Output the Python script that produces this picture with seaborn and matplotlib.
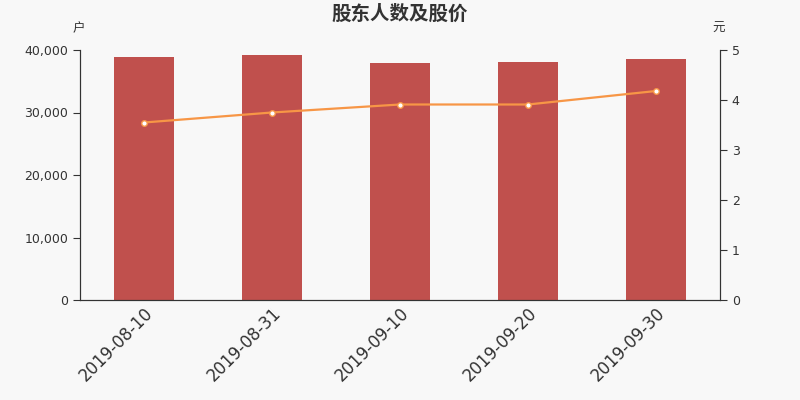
import numpy as np
import pandas as pd
import matplotlib
matplotlib.use("Agg")
import matplotlib.pyplot as plt
import seaborn as sns

# données
dates = ["2019-08-10", "2019-08-31", "2019-09-10", "2019-09-20", "2019-09-30"]
holders = [38880, 39250, 37970, 38030, 38560]
price = [3.55, 3.75, 3.91, 3.91, 4.18]

df = pd.DataFrame({"date": dates, "holders": holders, "price": price})

sns.set_style("white")
plt.rcParams["font.family"] = ["Noto Sans CJK SC", "DejaVu Sans"]

bg = "#f8f8f8"
axis_col = "#333333"

fig = plt.figure(figsize=(8, 4), dpi=100, facecolor=bg)
ax = fig.add_axes([0.1, 0.25, 0.8, 0.625])
ax.set_facecolor(bg)

sns.barplot(data=df, x="date", y="holders", color="#c0504d", saturation=1,
            width=0.47, linewidth=0, edgecolor="none", ax=ax)
ax.set_ylim(0, 40000)
ax.set_xlim(-0.5, len(dates) - 0.5)
ax.set_yticks([0, 10000, 20000, 30000, 40000])
ax.set_yticklabels([f"{v:,}" for v in [0, 10000, 20000, 30000, 40000]],
                   fontsize=9, color=axis_col, family="DejaVu Sans")
ax.set_xlabel("")
ax.set_ylabel("")

# ticks entre les catégories, libellés au centre
ax.set_xticks(np.arange(len(dates)))
ax.set_xticklabels(dates, rotation=45, ha="right", rotation_mode="anchor",
                   fontsize=12, color=axis_col, family="DejaVu Sans")
ax.tick_params(axis="x", which="major", length=0, pad=3)
ax.set_xticks(np.arange(len(dates) + 1) - 0.5, minor=True)
ax.tick_params(axis="x", which="minor", length=5, color=axis_col)
ax.tick_params(axis="y", length=5, color=axis_col, left=True)

ax2 = ax.twinx()
sns.lineplot(data=df, x="date", y="price", color="#f79646", linewidth=1.6,
             marker="o", markersize=4, markerfacecolor="white",
             markeredgecolor="#f79646", markeredgewidth=1, ax=ax2, sort=False)
ax2.set_ylim(0, 5)
ax2.set_yticks([0, 1, 2, 3, 4, 5])
ax2.set_yticklabels(["0", "1", "2", "3", "4", "5"], fontsize=9, color=axis_col,
                    family="DejaVu Sans")
ax2.set_ylabel("")
ax2.set_xlabel("")
ax2.tick_params(axis="y", length=5, color=axis_col, right=True)

for a in (ax, ax2):
    a.spines["top"].set_visible(False)
    for s in ("left", "right", "bottom"):
        a.spines[s].set_color(axis_col)
        a.spines[s].set_linewidth(0.8)

fig.text(0.5, 0.965, "股东人数及股价", ha="center", va="center", fontsize=14,
         fontweight="bold", color=axis_col)
fig.text(0.098, 0.928, "户", ha="center", va="center", fontsize=9, color=axis_col)
fig.text(0.898, 0.928, "元", ha="center", va="center", fontsize=9, color=axis_col)

fig.savefig("out.png", dpi=100, facecolor=bg)
plt.close(fig)
